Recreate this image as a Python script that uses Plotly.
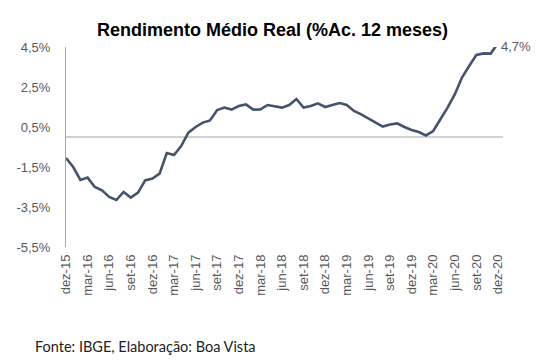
import plotly.graph_objects as go

months_pt = ["jan", "fev", "mar", "abr", "mai", "jun", "jul", "ago", "set", "out", "nov", "dez"]
categories = ["dez-15"] + [f"{m}-{y}" for y in range(16, 21) for m in months_pt]

values = [
    -1.05, -1.50, -2.15, -2.03, -2.50, -2.67, -3.00, -3.15, -2.75, -3.03,
    -2.78, -2.17, -2.08, -1.83, -0.80, -0.90, -0.45, 0.22, 0.50, 0.72,
    0.83, 1.35, 1.47, 1.37, 1.55, 1.63, 1.37, 1.38, 1.60, 1.53,
    1.47, 1.60, 1.90, 1.47, 1.55, 1.68, 1.50, 1.60, 1.70, 1.60,
    1.30, 1.13, 0.93, 0.72, 0.52, 0.63, 0.68, 0.50, 0.35, 0.25,
    0.08, 0.30, 0.88, 1.47, 2.13, 2.97, 3.55, 4.10, 4.18, 4.17,
    4.70,
]

y_ticks = [4.5, 2.5, 0.5, -1.5, -3.5, -5.5]
y_tick_text = ["4,5%", "2,5%", "0,5%", "-1,5%", "-3,5%", "-5,5%"]
x_ticks = categories[::3]

title = "Rendimento Médio Real (%Ac. 12 meses)"
source = "Fonte: IBGE, Elaboração: Boa Vista"

W, H = 544, 361
ML, MR, MT, MB = 66, 41, 47, 114
plot_w = W - ML - MR
plot_h = H - MT - MB

def px_x(px):
    return (px - ML) / plot_w

def px_y(py):
    return (H - MB - py) / plot_h

fig = go.Figure()
fig.add_trace(go.Scatter(
    x=categories, y=values, mode="lines",
    line=dict(color="#44546a", width=2.6),
    hoverinfo="skip", showlegend=False,
))

# zero line
fig.add_shape(type="line", xref="x domain", yref="y", x0=0, x1=1, y0=0, y1=0,
              line=dict(color="#a6a6a6", width=1), layer="below")

annotations = [
    dict(
        x=categories[-1], y=px_y(46.5), xref="x", yref="paper",
        text=("%.1f%%" % values[-1]).replace(".", ","),
        showarrow=False, xanchor="left", yanchor="middle", xshift=1,
        font=dict(family="Liberation Sans, Arial", size=13, color="#595959"),
    ),
    dict(
        x=px_x(272), y=px_y(30), xref="paper", yref="paper", text=f"<b>{title}</b>",
        showarrow=False, xanchor="center", yanchor="middle",
        font=dict(family="Liberation Sans, Arial", size=18, color="#000000"),
    ),
    dict(
        x=px_x(33), y=px_y(346), xref="paper", yref="paper", text=source,
        showarrow=False, xanchor="left", yanchor="middle",
        font=dict(family="Lato, Calibri, sans-serif", size=14.5, color="#222222"),
    ),
]

fig.update_layout(
    width=W, height=H,
    margin=dict(l=ML, r=MR, t=MT, b=MB, autoexpand=False),
    paper_bgcolor="white", plot_bgcolor="white",
    font=dict(family="Liberation Sans, Arial", color="#595959"),
    xaxis=dict(
        type="category", range=[0, 60.7],
        tickmode="array", tickvals=x_ticks, ticktext=x_ticks,
        tickangle=-90, tickfont=dict(size=13, color="#595959"),
        showgrid=False, zeroline=False, showline=False, ticks="",
        ticklabelstandoff=4,
    ),
    yaxis=dict(
        range=[-5.5, 4.5], tickmode="array", tickvals=y_ticks, ticktext=y_tick_text,
        tickfont=dict(size=13, color="#595959"),
        showgrid=False, zeroline=False, showline=True, linecolor="#a6a6a6", linewidth=1,
        ticks="", ticklabelstandoff=12,
    ),
    annotations=annotations,
)

fig.write_html(
    "out.html",
    config={"displayModeBar": False},
    post_script="document.body.style.margin='0';document.body.style.padding='0';",
)
